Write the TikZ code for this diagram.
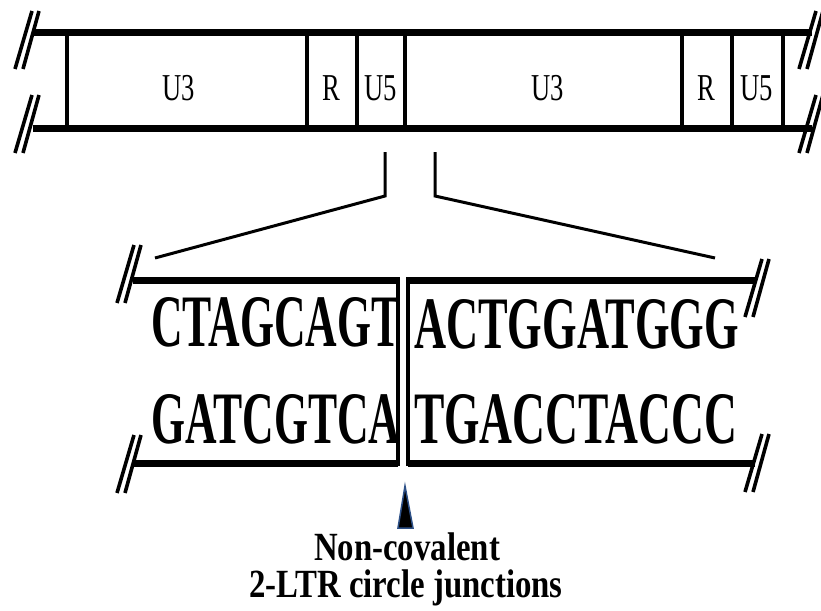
\documentclass[tikz,border=0pt]{standalone}
\usepackage{fontspec}
\setmainfont{Liberation Serif}
\begin{document}
\begin{tikzpicture}[x=1pt,y=-1pt,
  thickln/.style={line width=7pt,line cap=butt},
  sepln/.style={line width=4pt},
  zoomln/.style={line width=3pt},
  slash/.style={line width=3.6pt},
  brk/.pic={\draw[slash] (-12,29)--(5,-29); \draw[slash] (-4,29)--(12,-29);},
  lbl/.style={inner sep=0pt,anchor=base,font=\fontsize{38}{38}\selectfont},
  seq/.style={inner sep=0pt,anchor=base west,font=\bfseries\fontsize{74}{74}\selectfont},
  caption/.style={inner sep=0pt,anchor=base,font=\bfseries\fontsize{40}{40}\selectfont}]
\fill[white] (0,0) rectangle (821,610);
\useasboundingbox (0,0) rectangle (821,610);
% top strip
\draw[thickln] (33,33) -- (812,33);
\draw[thickln] (33,128) -- (812,128);
\foreach \x in {67,307,357,405,682,732,783}
  \draw[sepln] (\x,30) -- (\x,131);
\pic at (27,40) {brk};
\pic at (27,124) {brk};
\pic at (811,40) {brk};
\pic at (811,124) {brk};
\node[lbl] (u3a) at (179,100) {\scalebox{0.7}[1]{U3}};
\node[lbl] (ra)  at (331,100) {\scalebox{0.7}[1]{R}};
\node[lbl] (u5a) at (381,100) {\scalebox{0.7}[1]{U5}};
\node[lbl] (u3b) at (548,100) {\scalebox{0.7}[1]{U3}};
\node[lbl] (rb)  at (706,100) {\scalebox{0.7}[1]{R}};
\node[lbl] (u5b) at (757,100) {\scalebox{0.7}[1]{U5}};
% zoom connectors
\coordinate (zl0) at (385,152);
\coordinate (zl1) at (385,196);
\coordinate (zl2) at (155,258);
\coordinate (zr0) at (435,152);
\coordinate (zr1) at (435,196);
\coordinate (zr2) at (715,258);
\draw[zoomln] (zl0) -- (zl1) -- (zl2);
\draw[zoomln] (zr0) -- (zr1) -- (zr2);
% lower boxes
\draw[thickln] (133,280) -- (398,280);
\draw[thickln] (133,463) -- (398,463);
\draw[sepln] (398,277) -- (398,466);
\draw[thickln] (408,280) -- (755,280);
\draw[thickln] (408,463) -- (755,463);
\draw[sepln] (408,277) -- (408,466);
\pic at (129,274) {brk};
\pic at (129,464) {brk};
\pic at (757,288) {brk};
\pic at (757,463) {brk};
\node[seq] (s1) at (151,346) {\scalebox{0.59}[1]{CTAGCAGT}};
\node[seq] (s2) at (151,443) {\scalebox{0.59}[1]{GATCGTCA}};
\node[seq] (s3) at (414,348) {\scalebox{0.6}[1]{ACTGGATGGG}};
\node[seq] (s4) at (414,443) {\scalebox{0.615}[1]{TGACCTACCC}};
% junction marker
\draw[fill=black,draw={rgb,255:red,45;green,80;blue,135},line width=1.5pt,line join=miter]
  (398,528) -- (413,528) -- (405,486) -- cycle;
\node[caption] (c1) at (407,560) {\scalebox{0.82}[1]{Non-covalent}};
\node[caption] (c2) at (406,597) {\scalebox{0.82}[1]{2-LTR circle junctions}};
\end{tikzpicture}
\end{document}
